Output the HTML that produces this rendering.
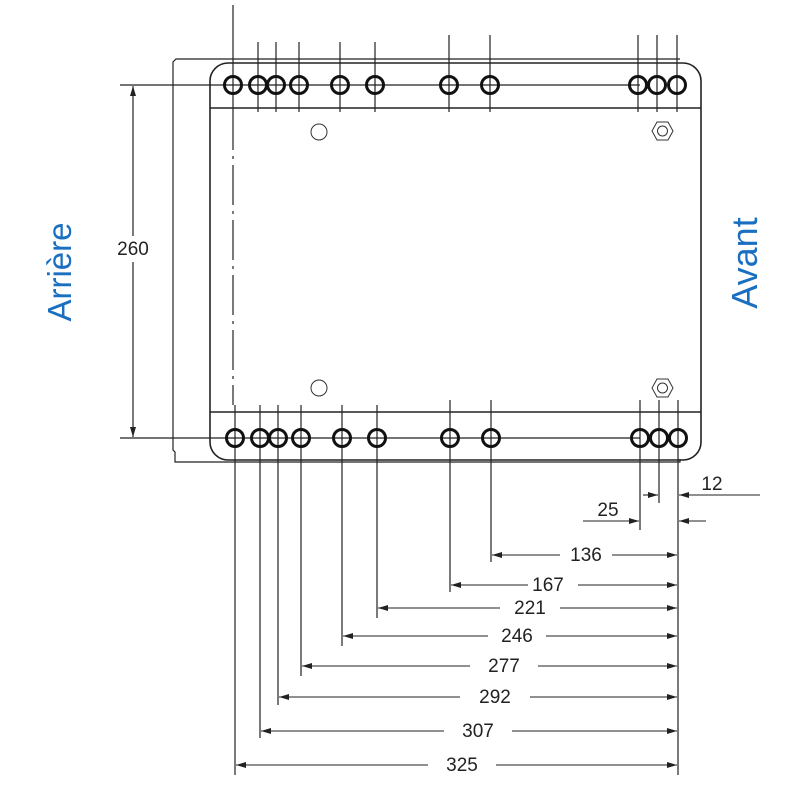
<!DOCTYPE html>
<html><head><style>body{margin:0;background:#fff}svg{display:block}</style></head><body>
<svg width="800" height="800" viewBox="0 0 800 800" xmlns="http://www.w3.org/2000/svg" font-family="Liberation Sans, sans-serif">
<defs><marker id="a" viewBox="0 0 10 6" refX="10" refY="3" markerWidth="10" markerHeight="6" orient="auto" markerUnits="userSpaceOnUse"><path d="M0,0L10,3L0,6z" fill="#222"/></marker></defs>
<g stroke="#222" fill="none" stroke-width="1.2">
<path d="M680,59 H176 L173,62 V450 L175,452 V462 H680 V459"/>
<path d="M228,63 H683 A18,18 0 0 1 701,81 V442 A18,18 0 0 1 683,460 H228 A18,18 0 0 1 210,442 V81 A18,18 0 0 1 228,63 Z" stroke-width="1.6"/>
<line x1="210" y1="108" x2="701" y2="108" stroke-width="1.4"/>
<line x1="210" y1="412" x2="701" y2="412" stroke-width="1.4"/>
<line x1="120" y1="85" x2="640" y2="85"/>
<line x1="120" y1="438" x2="640" y2="438"/>
<line x1="133" y1="236" x2="133" y2="86" marker-end="url(#a)"/>
<line x1="133" y1="262" x2="133" y2="437" marker-end="url(#a)"/>
<line x1="233" y1="5" x2="233" y2="110"/>
<line x1="233" y1="110" x2="233" y2="405" stroke-dasharray="40,6,3,6"/>
<line x1="235" y1="405" x2="235" y2="775"/>
<line x1="258" y1="42" x2="258" y2="112"/><line x1="276" y1="42" x2="276" y2="112"/>
<line x1="299" y1="42" x2="299" y2="112"/><line x1="340" y1="42" x2="340" y2="112"/>
<line x1="375" y1="42" x2="375" y2="112"/><line x1="449" y1="35" x2="449" y2="112"/>
<line x1="490" y1="35" x2="490" y2="112"/><line x1="638" y1="35" x2="638" y2="112"/>
<line x1="657" y1="35" x2="657" y2="112"/><line x1="677" y1="35" x2="677" y2="112"/>
<line x1="260" y1="405" x2="260" y2="738"/><line x1="278" y1="405" x2="278" y2="705"/>
<line x1="301" y1="405" x2="301" y2="676"/><line x1="342" y1="405" x2="342" y2="646"/>
<line x1="377" y1="405" x2="377" y2="618"/><line x1="450" y1="400" x2="450" y2="592"/>
<line x1="491" y1="400" x2="491" y2="562"/><line x1="640" y1="400" x2="640" y2="530"/>
<line x1="659" y1="400" x2="659" y2="503"/><line x1="678" y1="400" x2="678" y2="775"/>
<g stroke-width="1.1">
<line x1="643" y1="495" x2="658" y2="495" marker-end="url(#a)"/>
<line x1="760" y1="495" x2="679" y2="495" marker-end="url(#a)"/>
<line x1="583" y1="521" x2="639" y2="521" marker-end="url(#a)"/>
<line x1="706" y1="521" x2="679" y2="521" marker-end="url(#a)"/>
<line x1="560" y1="555" x2="492" y2="555" marker-end="url(#a)"/><line x1="612" y1="555" x2="677" y2="555" marker-end="url(#a)"/>
<line x1="528" y1="585" x2="451" y2="585" marker-end="url(#a)"/><line x1="578" y1="585" x2="677" y2="585" marker-end="url(#a)"/>
<line x1="500" y1="608" x2="378" y2="608" marker-end="url(#a)"/><line x1="560" y1="608" x2="677" y2="608" marker-end="url(#a)"/>
<line x1="488" y1="636" x2="343" y2="636" marker-end="url(#a)"/><line x1="546" y1="636" x2="677" y2="636" marker-end="url(#a)"/>
<line x1="470" y1="666" x2="302" y2="666" marker-end="url(#a)"/><line x1="538" y1="666" x2="677" y2="666" marker-end="url(#a)"/>
<line x1="460" y1="697" x2="279" y2="697" marker-end="url(#a)"/><line x1="530" y1="697" x2="677" y2="697" marker-end="url(#a)"/>
<line x1="444" y1="731" x2="261" y2="731" marker-end="url(#a)"/><line x1="512" y1="731" x2="677" y2="731" marker-end="url(#a)"/>
<line x1="428" y1="765" x2="236" y2="765" marker-end="url(#a)"/><line x1="496" y1="765" x2="677" y2="765" marker-end="url(#a)"/>
</g>
</g>
<g stroke="#111" stroke-width="3" fill="none">
<circle cx="233" cy="85" r="8.5"/><circle cx="258" cy="85" r="8.5"/><circle cx="276" cy="85" r="8.5"/><circle cx="299" cy="85" r="8.5"/><circle cx="340" cy="85" r="8.5"/><circle cx="375" cy="85" r="8.5"/><circle cx="449" cy="85" r="8.5"/><circle cx="490" cy="85" r="8.5"/><circle cx="638" cy="85" r="8.5"/><circle cx="657" cy="85" r="8.5"/><circle cx="677" cy="85" r="8.5"/>
<circle cx="235" cy="438" r="8.5"/><circle cx="260" cy="438" r="8.5"/><circle cx="278" cy="438" r="8.5"/><circle cx="301" cy="438" r="8.5"/><circle cx="342" cy="438" r="8.5"/><circle cx="377" cy="438" r="8.5"/><circle cx="450" cy="438" r="8.5"/><circle cx="491" cy="438" r="8.5"/><circle cx="640" cy="438" r="8.5"/><circle cx="659" cy="438" r="8.5"/><circle cx="678" cy="438" r="8.5"/>
</g>
<g stroke="#333" stroke-width="1" fill="none">
<circle cx="319" cy="132" r="8"/><circle cx="319" cy="388" r="8"/>
<path d="M652,131 L657,122 H668 L673,131 L668,140 H657 Z"/><circle cx="662.5" cy="131" r="5"/>
<path d="M652,388 L657,379 H668 L673,388 L668,397 H657 Z"/><circle cx="662.5" cy="388" r="5"/>
</g>
<g font-size="19" fill="#222" text-anchor="middle">
<text x="133" y="255">260</text>
<text x="712" y="490">12</text><text x="608" y="516">25</text>
<text x="586" y="561">136</text><text x="548" y="591">167</text><text x="530" y="614">221</text><text x="517" y="642">246</text><text x="504" y="672">277</text><text x="495" y="703">292</text><text x="478" y="737">307</text><text x="462" y="771">325</text>
</g>
<g font-size="33" fill="#1a6fc0" text-anchor="middle">
<text transform="translate(71,272) rotate(-90)">Arrière</text>
<text transform="translate(757,263) rotate(-90)" font-size="36">Avant</text>
</g>
</svg>
</body></html>
